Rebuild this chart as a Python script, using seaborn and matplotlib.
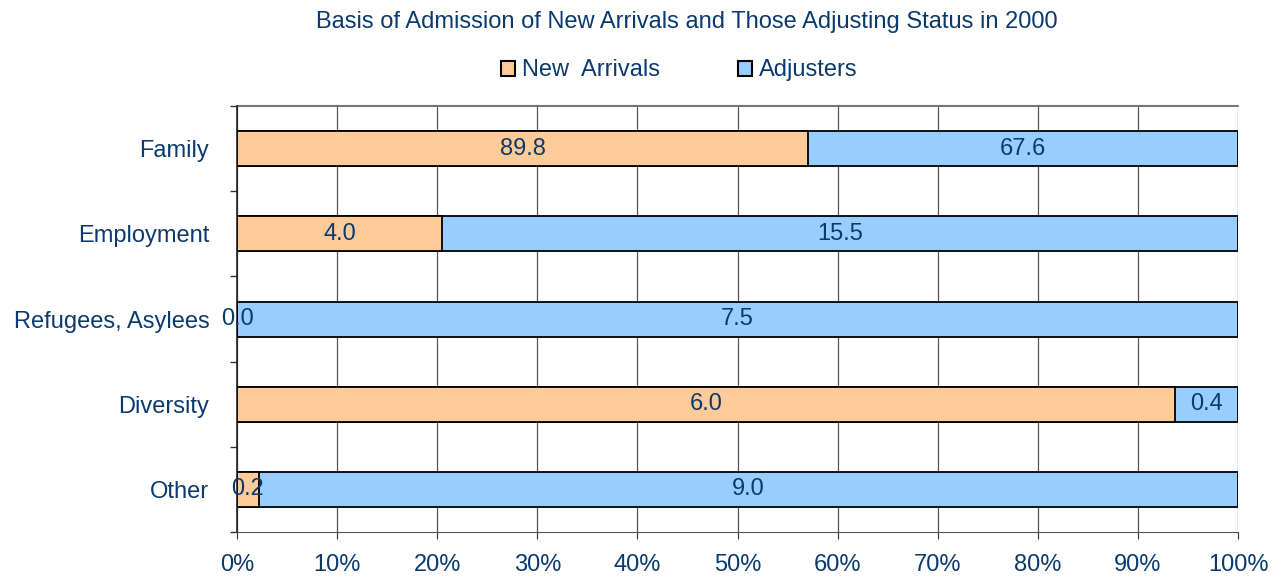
import numpy as np
import pandas as pd
import seaborn as sns
import matplotlib.pyplot as plt
from matplotlib.patches import Patch
from matplotlib.ticker import FixedLocator, PercentFormatter

# Data (shares in percent of each group)
categories = ['Family', 'Employment', 'Refugees, Asylees', 'Diversity', 'Other']
new_arrivals = [89.8, 4.0, 0.0, 6.0, 0.2]
adjusters = [67.6, 15.5, 7.5, 0.4, 9.0]

df = pd.DataFrame({'category': categories, 'new': new_arrivals, 'adj': adjusters})
df['total'] = df['new'] + df['adj']
df['new_pct'] = df['new'] / df['total'] * 100
df['full'] = 100.0

text_color = '#0b3a6e'
orange = '#ffcc99'
blue = '#99ccff'

sns.set_style('white')
plt.rcParams['font.family'] = ['Liberation Sans', 'DejaVu Sans']

fig = plt.figure(figsize=(12.82, 5.77), dpi=100)
ax = fig.add_axes([0.1849, 0.078, 0.7808, 0.738])

# stacked: draw full bar (adjusters) first, then new arrivals share on top
sns.barplot(data=df, y='category', x='full', color=blue, orient='h', width=0.41,
            saturation=1, edgecolor='black', linewidth=1.3, ax=ax, zorder=3)
sns.barplot(data=df, y='category', x='new_pct', color=orange, orient='h', width=0.41,
            saturation=1, edgecolor='black', linewidth=1.3, ax=ax, zorder=4)

# value labels centred in each segment
for i, row in df.iterrows():
    ax.text(row['new_pct'] / 2, i, f"{row['new']:.1f}", ha='center', va='center',
            fontsize=17, color=text_color, zorder=5)
    ax.text(row['new_pct'] + (100 - row['new_pct']) / 2, i, f"{row['adj']:.1f}",
            ha='center', va='center', fontsize=17, color=text_color, zorder=5)

ax.set_xlim(0, 100)
ax.set_ylim(len(categories) - 0.5, -0.5)
ax.set_xticks(np.arange(0, 101, 10))
ax.xaxis.set_major_formatter(PercentFormatter(decimals=0))
ax.xaxis.grid(True, color='#555555', linewidth=0.9, zorder=0)
ax.set_axisbelow(True)

ax.set_xlabel('')
ax.set_ylabel('')
ax.tick_params(axis='x', bottom=True, labelsize=17, colors='#333333', labelcolor=text_color,
               length=5, direction='out', pad=11)
ax.tick_params(axis='y', which='major', left=True, length=0, labelsize=17,
               labelcolor=text_color, pad=20)
ax.yaxis.set_minor_locator(FixedLocator(np.arange(-0.5, len(categories), 1)))
ax.tick_params(axis='y', which='minor', left=True, length=5, width=1, color='#333333',
               direction='out')

for side in ['top', 'right']:
    ax.spines[side].set_visible(False)
ax.spines['left'].set_color('#222222')
ax.spines['left'].set_linewidth(1.2)
ax.spines['bottom'].set_color('#555555')
ax.axhline(-0.5, color='#777777', linewidth=1.5, zorder=1, clip_on=False)

fig.text(0.536, 0.962, 'Basis of Admission of New Arrivals and Those Adjusting Status in 2000',
         ha='center', va='center', fontsize=17, color=text_color)

handles = [Patch(facecolor=orange, edgecolor='black', linewidth=1.5, label='New  Arrivals'),
           Patch(facecolor=blue, edgecolor='black', linewidth=1.5, label='Adjusters')]
fig.legend(handles=handles, loc='center', bbox_to_anchor=(0.53, 0.878), ncol=2,
           frameon=False, fontsize=17, labelcolor=text_color, handlelength=0.6,
           handleheight=0.6, handletextpad=0.3, columnspacing=3.3)

fig.savefig('out.png', dpi=100)
